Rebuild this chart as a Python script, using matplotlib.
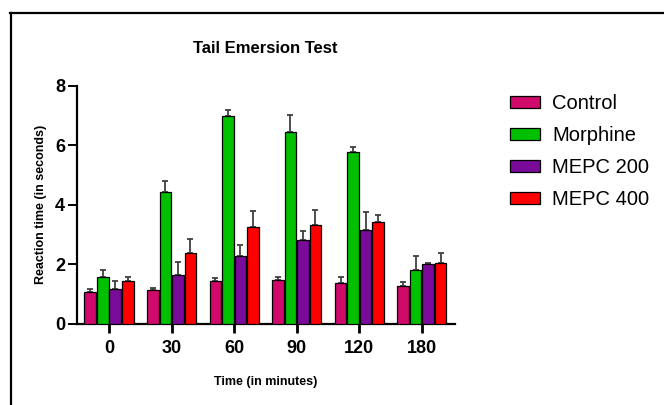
"""Tail Emersion Test - grouped bar chart with upward SEM bars."""

import matplotlib
matplotlib.use("Agg")
import matplotlib.pyplot as plt
from matplotlib.lines import Line2D
import numpy as np

plt.rcParams["font.family"] = ["Liberation Sans", "DejaVu Sans"]

times = ["0", "30", "60", "90", "120", "180"]
groups = ["Control", "Morphine", "MEPC 200", "MEPC 400"]
colors = ["#D00A6A", "#00C000", "#7A0A9A", "#FF0000"]

control = [1.06, 1.14, 1.44, 1.48, 1.39, 1.28]
morphine = [1.57, 4.42, 6.99, 6.43, 5.76, 1.81]
mepc200 = [1.19, 1.64, 2.28, 2.82, 3.15, 2.00]
mepc400 = [1.44, 2.40, 3.24, 3.32, 3.41, 2.06]

control_sem = [0.11, 0.08, 0.09, 0.10, 0.20, 0.13]
morphine_sem = [0.24, 0.38, 0.21, 0.59, 0.17, 0.46]
mepc200_sem = [0.26, 0.44, 0.37, 0.29, 0.60, 0.04]
mepc400_sem = [0.13, 0.46, 0.55, 0.51, 0.26, 0.34]

means = [control, morphine, mepc200, mepc400]
sems = [control_sem, morphine_sem, mepc200_sem, mepc400_sem]

fig = plt.figure(figsize=(6.64, 4.05), dpi=100)
ax = fig.add_axes([0.116, 0.2, 0.569, 0.5884])

x = np.arange(len(times))
step = 0.2
w = 0.185
for i, (vals, err, lbl, col) in enumerate(zip(means, sems, groups, colors)):
    pos = x + (i - 1.5) * step
    ax.bar(pos, vals, w, color=col, edgecolor="black", linewidth=0.9,
           label=lbl, zorder=3)
    ax.errorbar(pos, vals, yerr=[np.zeros(len(err)), err], fmt="none",
                ecolor="#404040", elinewidth=1.3, capsize=2.5, capthick=1.3,
                zorder=2)

ax.set_xlim(-0.511, 5.527)
ax.set_ylim(0, 8)
ax.set_yticks([0, 2, 4, 6, 8])
ax.set_xticks(x)
ax.set_xticklabels(times)

for s in ["top", "right"]:
    ax.spines[s].set_visible(False)
for s in ["left", "bottom"]:
    ax.spines[s].set_linewidth(1.6)

ax.tick_params(axis="y", length=6.5, width=1.4, pad=2, labelsize=13)
ax.tick_params(axis="x", length=6.5, width=2.0, pad=5, labelsize=13)
for t in ax.get_xticklabels() + ax.get_yticklabels():
    t.set_fontweight("bold")

ax.set_ylabel("Reaction time (in seconds)", fontsize=9, fontweight="bold",
              labelpad=6)
ax.set_xlabel("Time (in minutes)", fontsize=9, fontweight="bold", labelpad=14)
fig.text(0.4, 0.88, "Tail Emersion Test", ha="center", va="center",
         fontsize=12, fontweight="bold")

ax.legend(loc="upper left", bbox_to_anchor=(0.768, 0.768),
          bbox_transform=fig.transFigure, frameon=False, fontsize=14.5,
          handlelength=1.5, handleheight=0.55, handletextpad=0.6,
          labelspacing=0.65, borderpad=0, borderaxespad=0)

# outer frame (top and left edges)
fig.add_artist(Line2D([10 / 664, 1.0], [1 - 13 / 405, 1 - 13 / 405],
                      transform=fig.transFigure, color="black", linewidth=1.6))
fig.add_artist(Line2D([11 / 664, 11 / 664], [0.0, 1 - 13 / 405],
                      transform=fig.transFigure, color="black", linewidth=1.6))

fig.savefig("out.png", dpi=100)
